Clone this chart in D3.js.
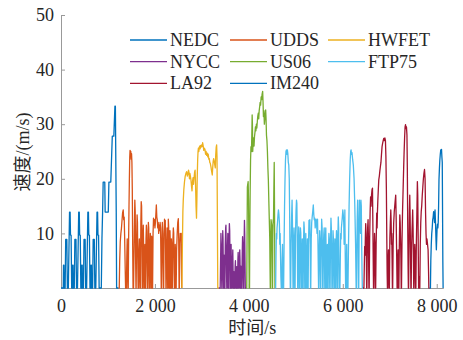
<!DOCTYPE html>
<html>
<head>
<meta charset="utf-8">
<script src="https://cdn.jsdelivr.net/npm/d3@7"></script>
<style>
  body { margin: 0; background: #fff; }
  text { font-family: "Liberation Serif", "Noto Sans CJK SC", serif; fill: #262626; }
</style>
</head>
<body>
<svg id="chart" width="463" height="340"></svg>
<script>
// drive cycles, [time s, speed m/s]
const nedc = [[0,0],[48,0],[53,4.2],[62,4.2],[67,0],[88,0],[100,8.9],[124,8.9],[135,0],[156,0],[182,13.9],[194,13.9],[202,9.7],[215,9.7],[227,0],
  [243,0],[248,4.2],[257,4.2],[262,0],[283,0],[295,8.9],[319,8.9],[330,0],[351,0],[377,13.9],[389,13.9],[397,9.7],[410,9.7],[422,0],
  [438,0],[443,4.2],[452,4.2],[457,0],[478,0],[490,8.9],[514,8.9],[525,0],[546,0],[572,13.9],[584,13.9],[592,9.7],[605,9.7],[617,0],
  [633,0],[638,4.2],[647,4.2],[652,0],[673,0],[685,8.9],[709,8.9],[720,0],[741,0],[767,13.9],[779,13.9],[787,9.7],[800,9.7],[812,0],
  [858,0],[872,9],[886,14],[898,19.4],[932,19.4],[940,13.9],[1007,13.9],[1020,19.4],[1060,19.4],[1092,27.8],[1125,27.8],[1148,33.3],[1158,33.3],[1168,22.2],[1176,13.9],[1184,0],[1225,0]];

const udds = [[1225,0],[1240,0],[1250,5],[1262,8.5],[1275,10],[1288,11],[1300,12.5],[1312,13.8],[1325,14.3],[1335,12.5],[1345,13],[1356,9],[1366,4],[1375,0],
  [1392,0],[1402,6],[1410,9],[1418,3],[1424,0],
  [1432,0],[1440,9],[1448,15],[1456,20],[1464,24],[1470,25.2],[1478,24.3],[1486,25],[1494,23.6],[1502,24.6],[1510,23],[1518,18],[1526,8],[1534,0],
  [1545,0],[1560,10],[1572,16.1],[1580,14],[1588,6],[1596,0],
  [1600,0],[1610,9],[1620,13.4],[1628,12],[1636,4],[1642,0],
  [1650,0],[1660,7],[1668,9],[1676,3],[1682,0],
  [1690,0],[1700,12],[1708,15.8],[1716,15],[1724,8],[1730,0],
  [1736,0],[1744,9],[1752,11.5],[1760,7],[1766,0],
  [1772,0],[1780,6],[1788,8],[1794,0],
  [1800,0],[1810,9],[1818,11.5],[1826,10.5],[1834,4],[1840,0],
  [1846,0],[1854,7],[1860,12],[1868,11],[1874,4],[1880,0],
  [1886,0],[1894,8],[1902,10],[1910,6],[1916,0],
  [1922,0],[1930,9.5],[1938,8],[1944,0],
  [1950,0],[1960,10],[1970,12.8],[1980,11.5],[1990,12.5],[2000,11],[2010,12],[2020,13.5],[2030,15.2],[2040,13],[2050,12.5],[2060,11],[2070,12],[2080,10],[2090,11.5],[2100,10.5],[2110,12],[2120,11],[2128,5],[2134,0],
  [2140,0],[2150,9],[2158,12],[2166,10],[2174,4],[2180,0],
  [2186,0],[2196,10],[2204,12.6],[2212,12],[2220,12.4],[2228,6],[2234,0],
  [2240,0],[2250,8],[2258,11],[2266,5],[2272,0],
  [2278,0],[2285,12.6],[2293,11],[2300,3],[2306,0],
  [2312,0],[2320,10.5],[2328,8],[2334,0],
  [2340,0],[2350,9],[2358,7],[2364,0],
  [2370,0],[2380,8],[2392,11],[2400,10],[2408,3],[2414,0],
  [2420,0],[2432,8],[2440,6],[2446,0],
  [2452,0],[2462,7],[2474,10],[2486,12],[2498,12.7],[2506,9],[2514,0],
  [2520,0],[2530,8],[2540,10],[2550,9.5],[2560,10],[2570,0]];

const hwfet = [[2575,0],[2585,8],[2595,14],[2603,16],[2615,18],[2630,19.5],[2645,20.5],[2660,21],[2675,21.3],[2690,20.5],[2705,21],[2715,21.6],[2724,21.2],[2735,20],[2745,21],[2755,20.5],[2767,19.8],[2780,18.5],[2790,17.8],[2800,19.5],[2812,20.2],[2822,19],[2831,20],[2845,21.2],[2855,21.6],[2865,19],[2875,15],[2885,12.8],[2893,16],[2900,20],[2910,23.5],[2918,25],[2925,25.6],[2935,25],[2945,25.8],[2955,26],[2963,25.5],[2973,26.1],[2985,25.8],[2995,26.2],[3005,25.9],[3016,26.6],[3028,26],[3040,25.2],[3052,25.6],[3065,25.4],[3078,24.5],[3090,25],[3102,24.3],[3114,24.7],[3125,24],[3135,24.5],[3147,23.6],[3157,23.7],[3168,23],[3180,22.8],[3193,22.2],[3205,21.5],[3215,21],[3221,20.7],[3230,22],[3240,23.2],[3250,23.7],[3263,23.2],[3275,22.5],[3285,22],[3295,24.5],[3305,25.8],[3314,26.2],[3322,24],[3330,12],[3338,0],[3360,0]];

const nycc = [[3360,0],[3390,0],[3398,5],[3405,10],[3412,8],[3418,3],[3424,0],
  [3430,0],[3438,7],[3444,10.5],[3450,9],[3456,4],[3462,0],
  [3466,0],[3472,6],[3478,3],[3484,0],
  [3490,0],[3498,8],[3506,11],[3512,11.5],[3518,8],[3524,3],[3530,0],
  [3536,0],[3544,7],[3552,10],[3558,6],[3564,0],
  [3570,0],[3578,9],[3585,11.8],[3592,10.5],[3598,6],[3604,0],
  [3610,0],[3616,6],[3622,8],[3628,4],[3634,0],
  [3642,0],[3650,5],[3658,7],[3664,3],[3670,0],
  [3676,0],[3682,3],[3688,2],[3694,0],
  [3700,0],[3708,4],[3714,5],[3720,2],[3726,0],
  [3734,0],[3740,3.9],[3746,2],[3752,0],
  [3758,0],[3766,5],[3772,6.5],[3778,3],[3784,0],
  [3790,0],[3798,5],[3806,7],[3812,5],[3818,0],
  [3824,0],[3830,4],[3836,2],[3842,0],
  [3850,0],[3858,6],[3866,9.4],[3872,8],[3878,3],[3884,0],
  [3890,0],[3898,8],[3906,12.4],[3912,10],[3918,5],[3924,0],[3945,0]];

const us06 = [[3945,0],[3955,0],[3962,10],[3968,18.5],[3976,19],[3985,19.5],[3993,16],[4000,8],[4008,0],[4014,0],
  [4020,10],[4028,18],[4036,23.4],[4045,25.9],[4055,25],[4063,28],[4070,31.7],[4076,30],[4082,25],[4090,26.5],[4100,27.5],[4110,26],[4120,27.7],[4130,28.5],[4140,29.5],[4150,28.8],[4160,30],[4170,29.3],[4180,30.5],[4190,31.5],[4200,32],[4210,31],[4220,32.5],[4230,33.2],[4240,34],[4250,33.5],[4262,35],[4272,34.5],[4282,35.5],[4294,36],[4302,34],[4310,31.4],[4320,32.5],[4330,30],[4340,31],[4350,32],[4358,32.6],[4366,31],[4375,28],[4385,27],[4395,25],[4405,22],[4415,19.8],[4425,16],[4435,12.5],[4445,9],[4452,3],[4456,0],
  [4460,0],[4466,8],[4472,12.5],[4480,12],[4488,11.5],[4494,6],[4500,0],[4505,0],[4510,9],[4518,12.5],[4524,12],[4532,18],[4540,23],[4546,15],[4552,5],[4556,0]];

const ftp75 = [[4560,0],[4570,0],[4578,6],[4586,10],[4594,9],[4600,11],[4610,12],[4620,13.4],[4630,14.3],[4640,13.5],[4650,12],[4658,8],[4666,10],[4674,6],[4682,2],[4690,0],
  [4700,0],[4708,5],[4716,8],[4722,3],[4728,0],
  [4740,0],[4750,8],[4760,15],[4770,20],[4780,23.5],[4790,25],[4800,25.3],[4810,24.5],[4820,25.3],[4830,24.6],[4840,23],[4850,22.5],[4860,20],[4868,14],[4876,6],[4882,0],
  [4890,0],[4900,8],[4910,13],[4920,16.1],[4928,12],[4936,4],[4940,0],
  [4946,0],[4954,8],[4962,11],[4970,8],[4976,0],
  [4984,0],[4994,10],[5004,14],[5014,16.1],[5022,15.5],[5030,10],[5036,3],[5040,0],
  [5046,0],[5054,8],[5062,11.2],[5070,9],[5076,0],
  [5082,0],[5090,7],[5098,11],[5106,10],[5112,4],[5116,0],
  [5122,0],[5130,6],[5138,9],[5144,4],[5148,0],
  [5156,0],[5164,8],[5172,12.1],[5180,11],[5186,4],[5190,0],
  [5196,0],[5204,7],[5212,10],[5218,5],[5222,0],
  [5230,0],[5238,6],[5246,9],[5252,3],[5256,0],
  [5262,0],[5270,8],[5280,12.4],[5290,11],[5298,12.5],[5306,8],[5312,0],
  [5318,0],[5328,9],[5338,12],[5348,13],[5360,14],[5372,15.2],[5382,13.5],[5392,12.5],[5402,12.8],[5412,11],[5422,12],[5432,12.6],[5442,11.5],[5452,10],[5462,12.6],[5470,9],[5478,4],[5484,0],
  [5490,0],[5500,8],[5508,10.5],[5516,9],[5522,3],[5526,0],
  [5532,0],[5540,7],[5550,12.6],[5560,11],[5568,5],[5572,0],
  [5580,0],[5588,8],[5596,10],[5604,11],[5610,6],[5616,0],
  [5622,0],[5630,9],[5638,11],[5646,6],[5650,0],
  [5656,0],[5664,6],[5672,8],[5678,3],[5682,0],
  [5688,0],[5696,7],[5704,10],[5712,9],[5718,3],[5722,0],
  [5730,0],[5738,8],[5748,12.8],[5756,11],[5764,5],[5768,0],
  [5776,0],[5784,6],[5792,10.5],[5800,9],[5806,3],[5810,0],
  [5816,0],[5824,7],[5832,9],[5838,4],[5842,0],
  [5848,0],[5856,8],[5866,10.5],[5874,8],[5880,0],
  [5886,0],[5894,9],[5904,13],[5912,11],[5918,4],[5922,0],
  [5939,0],[5948,6],[5956,10],[5964,9],[5970,11],[5980,12],[5990,13],[6000,14.3],[6010,13.5],[6020,12],[6028,8],[6036,10],[6044,14.3],[6052,6],[6060,0],
  [6068,0],[6076,5],[6084,8],[6090,3],[6096,0],
  [6110,0],[6122,8],[6134,15],[6146,20],[6158,23.5],[6168,25],[6176,25.3],[6186,24.5],[6196,24.8],[6210,23.5],[6224,22.5],[6240,20],[6256,15],[6272,8],[6284,0],
  [6292,0],[6300,8],[6308,13],[6316,16.1],[6324,12],[6330,4],[6334,0],
  [6340,0],[6346,8],[6354,16.1],[6362,15],[6370,12],[6378,10],[6386,16.1],[6394,15],[6402,8],[6410,3],[6416,0],[6430,0]];

const la92 = [[6430,0],[6450,0],[6458,4],[6466,7.6],[6474,6],[6480,9],[6488,11.8],[6496,10],[6502,5],[6508,0],
  [6514,0],[6522,8],[6530,11.2],[6538,12.5],[6546,9],[6552,3],[6556,0],
  [6562,0],[6572,9],[6582,14],[6592,16.7],[6602,15],[6612,17],[6622,18],[6632,18.3],[6640,12],[6648,5],[6654,0],
  [6660,0],[6668,6],[6676,10],[6684,8],[6690,3],[6694,0],
  [6700,0],[6710,8],[6722,13.7],[6730,11],[6738,14],[6746,16],[6756,18],[6766,19.8],[6778,20.5],[6790,21.5],[6800,22.2],[6812,23],[6824,24.5],[6836,25.9],[6848,26.5],[6860,27],[6872,27.4],[6884,27],[6896,27.5],[6908,27],[6918,24],[6928,18],[6936,10],[6944,3],[6950,0],
  [6956,0],[6964,5],[6972,7],[6980,4],[6986,0],
  [6992,0],[7002,9],[7012,12],[7022,14.3],[7030,12],[7036,8],[7042,10],[7050,5],[7056,0],
  [7062,0],[7072,8],[7084,12],[7096,14],[7106,15],[7116,16],[7127,17],[7136,13],[7144,8],[7150,4],[7156,0],
  [7162,0],[7170,5],[7178,7],[7184,3],[7188,0],
  [7194,0],[7204,8],[7214,13.4],[7222,12],[7230,9],[7238,5],[7244,0],
  [7250,0],[7260,8],[7272,14],[7284,18],[7296,22],[7306,25],[7316,27.5],[7326,29.5],[7336,29.9],[7346,29.2],[7356,29.5],[7366,28],[7374,22],[7382,12],[7390,4],[7396,0],
  [7402,0],[7410,8],[7418,14],[7426,17],[7434,13],[7440,8],[7446,3],[7450,0],
  [7456,0],[7464,7],[7472,10],[7480,12],[7488,14.3],[7496,11],[7504,6],[7510,0],
  [7516,0],[7524,5],[7532,8],[7540,6],[7546,2],[7550,0],
  [7556,0],[7566,8],[7578,14],[7588,19.5],[7596,17],[7604,10],[7610,4],[7614,0],
  [7620,0],[7628,2],[7634,0],
  [7640,0],[7650,8],[7660,12],[7670,14],[7680,15],[7692,17],[7704,18.5],[7716,20],[7728,21],[7740,21.7],[7752,20],[7762,14],[7772,10],[7782,8],[7792,9],[7804,8],[7816,7],[7826,3],[7832,0],[7850,0]];

const im240 = [[7850,0],[7866,0],[7874,5],[7884,8],[7894,10],[7904,11],[7914,12.5],[7924,13],[7934,14],[7944,13],[7954,12],[7964,14.3],[7974,12],[7984,9],[7992,7],[8000,9],[8008,11],[8016,11.7],[8024,11],[8032,12],[8040,15],[8048,19.8],[8058,22],[8066,23.4],[8076,24.5],[8086,25.3],[8094,25],[8102,25.4],[8110,24],[8118,23],[8124,14],[8130,5],[8136,0]];

const cycleNames = ['NEDC', 'UDDS', 'HWFET', 'NYCC', 'US06', 'FTP75', 'LA92', 'IM240'];
const cycleData = [nedc, udds, hwfet, nycc, us06, ftp75, la92, im240];
const cycleColors = ['#0072BD', '#D95319', '#EDB120', '#7E2F8E', '#77AC30', '#4DBEEE', '#A2142F', '#0072BD'];

const xTicks = [0, 2000, 4000, 6000, 8000];
const yTicks = [10, 20, 30, 40, 50];
const xMax = 8140;
const yMax = 50;

const svg = d3.select('#chart');
const plotLeft = 61, plotRight = 443.3, plotTop = 15, plotBottom = 288;

const x = d3.scaleLinear().domain([0, xMax]).range([plotLeft, plotRight]);
const y = d3.scaleLinear().domain([0, yMax]).range([plotBottom, plotTop]);

const fmt = d3.formatLocale({decimal: '.', thousands: ' ', grouping: [3], currency: ['', '']}).format(',');

// axes
const xAxis = d3.axisBottom(x).tickValues(xTicks).tickFormat(fmt).tickSizeInner(-4).tickSizeOuter(0).tickPadding(11.5);
const yAxis = d3.axisLeft(y).tickValues(yTicks).tickSizeInner(-4).tickSizeOuter(0).tickPadding(7);

const gx = svg.append('g').attr('transform', 'translate(0,' + plotBottom + ')').call(xAxis);
const gy = svg.append('g').attr('transform', 'translate(' + plotLeft + ',0)').call(yAxis);
[gx, gy].forEach(function(g) {
  g.select('.domain').attr('stroke', '#999').attr('stroke-width', 1);
  g.selectAll('.tick line').attr('stroke', '#999');
  g.selectAll('.tick text').attr('font-size', 18).attr('font-family', '"Liberation Serif", serif').attr('fill', '#262626');
});

// lines
const line = d3.line()
  .x(function(d) { return x(d[0]); })
  .y(function(d) { return y(d[1]); });

cycleData.forEach(function(data, i) {
  svg.append('path')
    .datum(data)
    .attr('fill', 'none')
    .attr('stroke', cycleColors[i])
    .attr('stroke-width', 1.3)
    .attr('stroke-linejoin', 'round')
    .attr('d', line);
});

// axis labels
svg.append('text')
  .attr('x', (plotLeft + plotRight) / 2).attr('y', 334)
  .attr('text-anchor', 'middle').attr('font-size', 18)
  .text('时间/s');
svg.append('text')
  .attr('transform', 'translate(29,152) rotate(-90)')
  .attr('text-anchor', 'middle').attr('font-size', 18)
  .text('速度/(m/s)');

// legend, 3 columns
const legendX = [130, 230, 328];
const legendY = [40, 61.7, 83.3];
const legend = svg.append('g');
cycleNames.forEach(function(name, i) {
  const cx = legendX[i % 3], cy = legendY[Math.floor(i / 3)];
  legend.append('line')
    .attr('x1', cx).attr('x2', cx + 37)
    .attr('y1', cy).attr('y2', cy)
    .attr('stroke', cycleColors[i]).attr('stroke-width', 1.3);
  legend.append('text')
    .attr('x', cx + 40).attr('y', cy).attr('dy', '0.33em')
    .attr('font-size', 18)
    .text(name);
});
</script>
</body>
</html>
